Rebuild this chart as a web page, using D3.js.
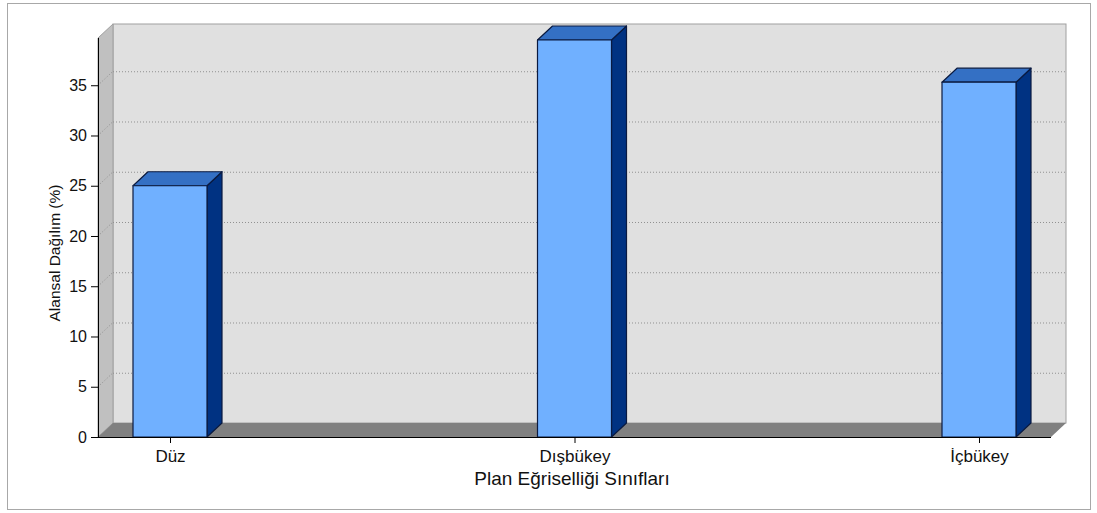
<!DOCTYPE html>
<html><head><meta charset="utf-8">
<script src="https://cdn.jsdelivr.net/npm/d3@7"></script>
<style>body{margin:0;background:#fff;}svg text{font-family:"Liberation Sans",Arial,sans-serif;}</style>
</head><body>
<svg id="c" width="1097" height="513"></svg>
<script>
const categories = ["Düz", "Dışbükey", "İçbükey"];
const values = [25.0, 39.5, 35.3];
const yTicks = [0, 5, 10, 15, 20, 25, 30, 35];
const yTitle = "Alansal Dağılım (%)";
const xTitle = "Plan Eğriselliği Sınıfları";

const svg = d3.select("#c");
const L = 98, R = 1051, B = 437, T = 38, DX = 15, DY = 14;
const x = d3.scalePoint().domain(categories).range([L, R]).padding(0.178);
const y = d3.scaleLinear().domain([0, 39.7]).range([B, T]);
const bw = 74;

// outer border
svg.append("rect").attr("x", 7.5).attr("y", 3.5).attr("width", 1083).attr("height", 506)
  .attr("fill", "#fff").attr("stroke", "#a8a8a8");

// back wall
svg.append("rect").attr("x", L + DX).attr("y", T - DY).attr("width", R - L).attr("height", B - T)
  .attr("fill", "#e0e0e0").attr("stroke", "#a0a0a0");
// left wall
svg.append("polygon").attr("points", [[L, T], [L + DX, T - DY], [L + DX, B - DY], [L, B]].join(" "))
  .attr("fill", "#c0c0c0").attr("stroke", "#a0a0a0");
// floor
svg.append("polygon").attr("points", [[L, B], [L + DX, B - DY], [R + DX, B - DY], [R, B]].join(" "))
  .attr("fill", "#808080");

// grid lines
yTicks.filter(t => t > 0).forEach(t => {
  const yy = y(t);
  svg.append("line").attr("x1", L).attr("y1", yy).attr("x2", L + DX).attr("y2", yy - DY)
    .attr("stroke", "#909090").attr("stroke-dasharray", "1,2");
  svg.append("line").attr("x1", L + DX).attr("y1", yy - DY + 0.5).attr("x2", R + DX).attr("y2", yy - DY + 0.5)
    .attr("stroke", "#909090").attr("stroke-dasharray", "1,2");
});

// bars
categories.forEach((c, i) => {
  const cx = x(c), x0 = cx - bw / 2, x1 = cx + bw / 2, yt = y(values[i]);
  const g = svg.append("g").attr("stroke", "#0a1a40").attr("stroke-width", 1.2).attr("stroke-linejoin", "round");
  g.append("polygon").attr("points", [[x1, yt], [x1 + DX, yt - DY], [x1 + DX, B - DY], [x1, B]].join(" "))
    .attr("fill", "#003282");
  g.append("polygon").attr("points", [[x0, yt], [x0 + DX, yt - DY], [x1 + DX, yt - DY], [x1, yt]].join(" "))
    .attr("fill", "#3470c4");
  g.append("rect").attr("x", x0).attr("y", yt).attr("width", bw).attr("height", B - yt)
    .attr("fill", "#70b0ff");
});

// y axis
const ya = svg.append("g").attr("transform", `translate(${L},0)`)
  .call(d3.axisLeft(y).tickValues(yTicks).tickSize(7).tickPadding(4).tickSizeOuter(0));
ya.select(".domain").attr("stroke", "#000").attr("d", `M0.5,${T}V${B}`);
ya.selectAll("text").attr("font-size", 16).attr("fill", "#111").attr("font-family", "Liberation Sans, Arial, sans-serif");

// x axis
const xa = svg.append("g").attr("transform", `translate(0,${B})`)
  .call(d3.axisBottom(x).tickSize(6).tickSizeOuter(0));
xa.select(".domain").attr("stroke", "#000").attr("d", `M${L},0.5H${R}`);
xa.selectAll("text").attr("font-size", 17).attr("fill", "#111").attr("dy", null).attr("y", 25)
  .attr("font-family", "Liberation Sans, Arial, sans-serif");

// titles
svg.append("text").attr("x", 572).attr("y", 485).attr("text-anchor", "middle")
  .attr("font-size", 19).attr("fill", "#111").text(xTitle);
svg.append("text").attr("transform", "translate(60,253) rotate(-90)").attr("text-anchor", "middle")
  .attr("font-size", 15.5).attr("fill", "#111").text(yTitle);
</script>
</body></html>
